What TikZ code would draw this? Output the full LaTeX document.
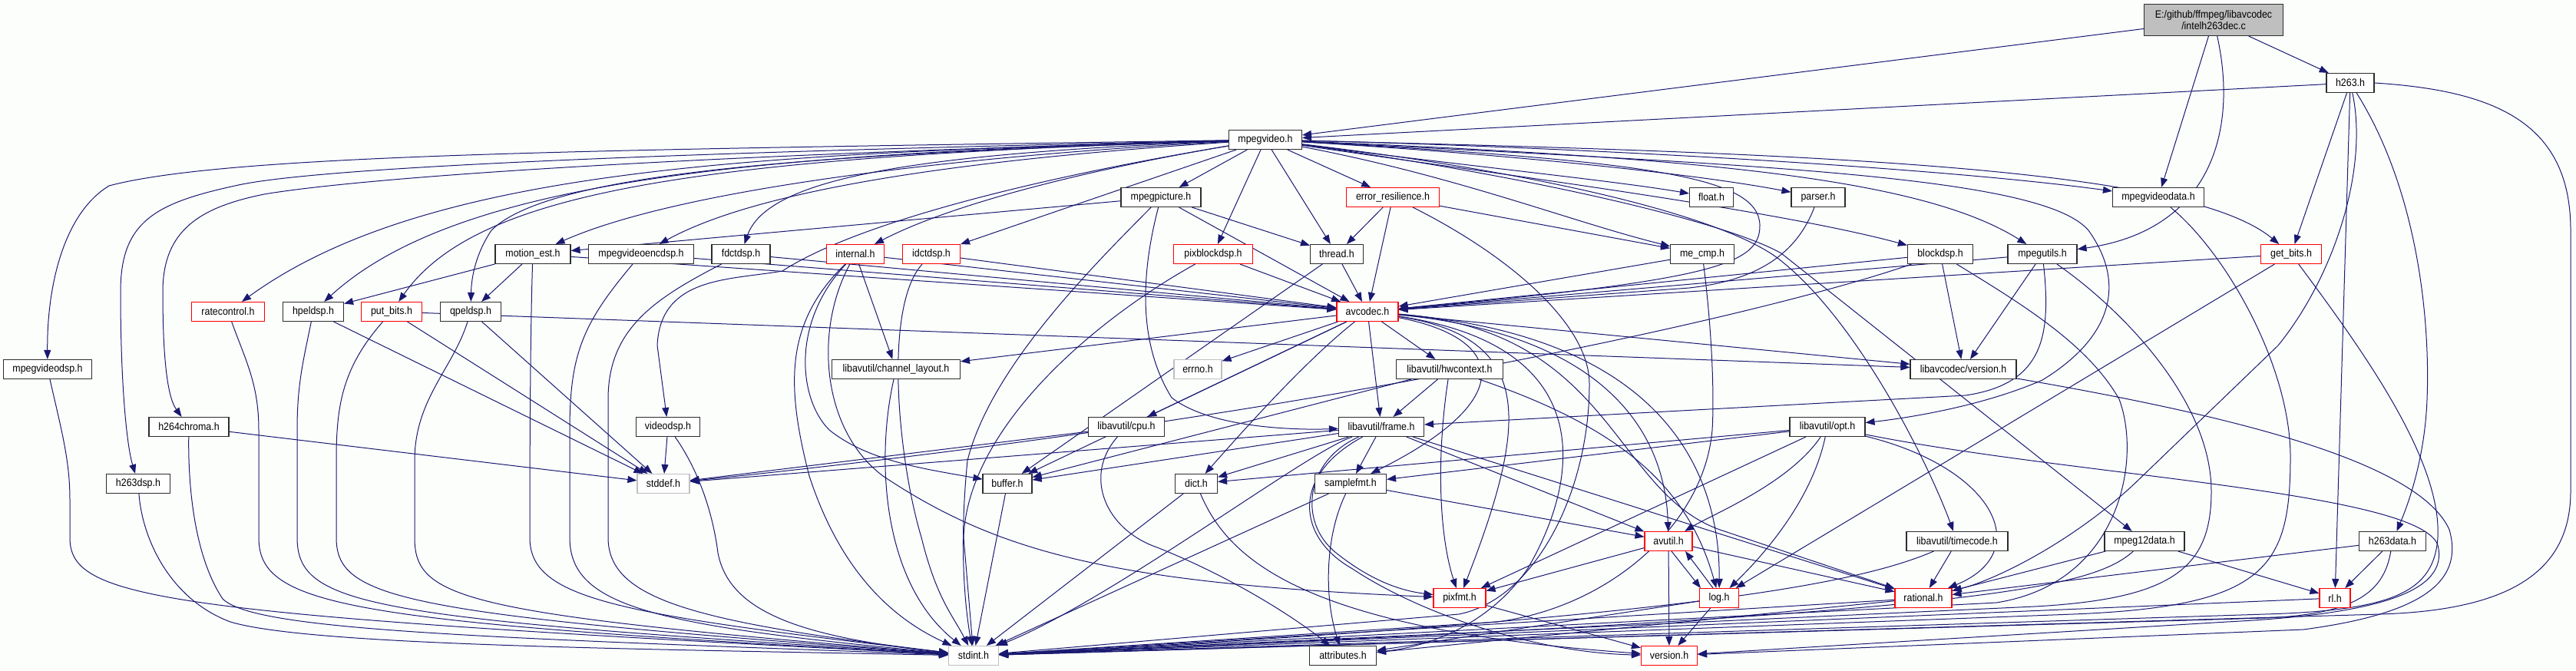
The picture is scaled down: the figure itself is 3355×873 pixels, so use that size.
\documentclass[tikz,border=0pt]{standalone}
\usepackage{fontspec}
\setmainfont{Liberation Sans}[FakeStretch=0.9]
\usetikzlibrary{arrows.meta}
\definecolor{edgec}{HTML}{191970}
\definecolor{bgc}{RGB}{252,254,252}
\definecolor{boxc}{RGB}{45,45,45}
\definecolor{grayc}{HTML}{BFBFBF}
\definecolor{rootfill}{HTML}{BFBFBF}
\pgfdeclarelayer{bglayer}
\pgfdeclarelayer{edgelayer}
\pgfsetlayers{bglayer,edgelayer,main}
\begin{document}
\begin{tikzpicture}[x=1pt,y=-1pt,
 every node/.style={font=\fontsize{13.8}{15.5}\selectfont},
 box/.style={draw=boxc,line width=1.1pt,fill=white,minimum height=25pt,inner xsep=4pt,inner ysep=0pt},
 rbox/.style={box,draw=red},
 gbox/.style={box,draw=grayc},
 edg/.style={draw=edgec,line width=1pt,-{Triangle[length=12pt,width=9pt]}}
]
\begin{pgfonlayer}{bglayer}
\fill[bgc] (0,0) rectangle (3355,873);
\end{pgfonlayer}
\useasboundingbox (0,0) rectangle (3355,873);

% nodes
\node[box,fill=rootfill,minimum width=181pt,minimum height=41pt,align=center] (root) at (2883,26) {E:/github/ffmpeg/libavcodec\\/intelh263dec.c};
\node[box,minimum width=62pt] (h263) at (3061,108) {h263.h};
\node[box,minimum width=95pt] (mpegvideo) at (1648,182) {mpegvideo.h};
\node[box,minimum width=104pt] (mpegpicture) at (1512,257) {mpegpicture.h};
\node[rbox,minimum width=121pt] (errres) at (1814,257) {error\_resilience.h};
\node[box,minimum width=57pt] (float) at (2229,257) {float.h};
\node[box,minimum width=70pt] (parser) at (2368,257) {parser.h};
\node[box,minimum width=119pt] (mpegvideodata) at (2811,257) {mpegvideodata.h};
\node[box,minimum width=98pt] (motionest) at (694,331) {motion\_est.h};
\node[box,minimum width=137pt] (encdsp) at (835,331) {mpegvideoencdsp.h};
\node[box,minimum width=76pt] (fdctdsp) at (965,331) {fdctdsp.h};
\node[rbox,minimum width=75pt] (internal) at (1114,331) {internal.h};
\node[rbox,minimum width=75pt] (idctdsp) at (1213,331) {idctdsp.h};
\node[rbox,minimum width=103pt] (pixblockdsp) at (1580,331) {pixblockdsp.h};
\node[box,minimum width=69pt] (thread) at (1741,331) {thread.h};
\node[box,minimum width=83pt] (mecmp) at (2217,331) {me\_cmp.h};
\node[box,minimum width=85pt] (blockdsp) at (2527,331) {blockdsp.h};
\node[box,minimum width=90pt] (mpegutils) at (2660,331) {mpegutils.h};
\node[rbox,minimum width=79pt] (getbits) at (2984,331) {get\_bits.h};
\node[rbox,minimum width=95pt] (ratecontrol) at (297,406) {ratecontrol.h};
\node[box,minimum width=79pt] (hpeldsp) at (408,406) {hpeldsp.h};
\node[rbox,minimum width=79pt] (putbits) at (510,406) {put\_bits.h};
\node[box,minimum width=79pt] (qpeldsp) at (613,406) {qpeldsp.h};
\node[rbox,minimum width=80pt] (avcodec) at (1781,406) {avcodec.h};
\node[box,minimum width=115pt] (mpegvideodsp) at (62,481) {mpegvideodsp.h};
\node[box,minimum width=167pt] (chlayout) at (1167,481) {libavutil/channel\_layout.h};
\node[gbox,minimum width=62pt] (errno) at (1560,481) {errno.h};
\node[box,minimum width=139pt] (hwcontext) at (1888,481) {libavutil/hwcontext.h};
\node[box,minimum width=138pt] (lavcversion) at (2557,481) {libavcodec/version.h};
\node[box,minimum width=104pt] (h264chroma) at (246,556) {h264chroma.h};
\node[box,minimum width=83pt] (videodsp) at (870,556) {videodsp.h};
\node[box,minimum width=99pt] (cpu) at (1467,556) {libavutil/cpu.h};
\node[box,minimum width=111pt] (frame) at (1799,556) {libavutil/frame.h};
\node[box,minimum width=98pt] (opt) at (2380,556) {libavutil/opt.h};
\node[box,minimum width=83pt] (h263dsp) at (180,630) {h263dsp.h};
\node[gbox,minimum width=68pt] (stddef) at (864,630) {stddef.h};
\node[box,minimum width=64pt] (buffer) at (1312,630) {buffer.h};
\node[box,minimum width=55pt] (dict) at (1558,630) {dict.h};
\node[box,minimum width=93pt] (samplefmt) at (1759,630) {samplefmt.h};
\node[rbox,minimum width=62pt] (avutil) at (2173,705) {avutil.h};
\node[box,minimum width=132pt] (timecode) at (2549,705) {libavutil/timecode.h};
\node[box,minimum width=104pt] (mpeg12data) at (2793,705) {mpeg12data.h};
\node[box,minimum width=87pt] (h263data) at (3116,705) {h263data.h};
\node[rbox,minimum width=68pt] (pixfmt) at (1901,779) {pixfmt.h};
\node[rbox,minimum width=51pt] (log) at (2239,779) {log.h};
\node[rbox,minimum width=74pt] (rational) at (2505,779) {rational.h};
\node[rbox,minimum width=40pt] (rl) at (3041,779) {rl.h};
\node[gbox,minimum width=65pt] (stdint) at (1268,854) {stdint.h};
\node[box,minimum width=87pt] (attributes) at (1749,854) {attributes.h};
\node[rbox,minimum width=73pt] (version) at (2174,854) {version.h};

\begin{pgfonlayer}{edgelayer}
% root
\draw[edg] (root) -- (mpegvideo);
\draw[edg] (root) -- (mpegvideodata);
\draw[edg] (root) .. controls (2915,170) and (2880,300) .. (mpegutils);
\draw[edg] (root) -- (h263);
% h263
\draw[edg] (h263) -- (mpegvideo);
\draw[edg] (h263) -- (getbits);
\draw[edg] (h263) -- (rl);
\draw[edg] (h263) .. controls (3150,250) and (3165,420) .. (3161,520) .. controls (3158,600) and (3135,660) .. (h263data);
\draw[edg] (h263) .. controls (3085,220) and (3040,360) .. (2967,450) -- (2780,630) .. controls (2700,705) and (2600,755) .. (rational);
\draw[edg] (h263.east) .. controls (3250,118) and (3348,160) .. (3348,300) -- (3348,640) .. controls (3348,750) and (3260,795) .. (3100,800) -- (stdint);
% mpegvideodata
\draw[edg] (mpegvideodata) .. controls (2900,330) and (2985,480) .. (2983,600) .. controls (2982,740) and (2950,790) .. (2700,800) -- (stdint);
% mpegutils
\draw[edg] (mpegutils) -- (avcodec);
\draw[edg] (mpegutils) -- (lavcversion);
\draw[edg] (mpegutils) .. controls (2672,440) and (2660,500) .. (2560,515) -- (frame);
\draw[edg] (mpegutils) .. controls (2760,400) and (2880,520) .. (2880,640) .. controls (2880,740) and (2830,780) .. (2650,790) -- (stdint);
% blockdsp
\draw[edg] (blockdsp) -- (avcodec);
\draw[edg] (blockdsp) -- (lavcversion);
\draw[edg] (blockdsp) .. controls (2300,410) and (1700,545) .. (stddef);
\draw[edg] (blockdsp) .. controls (2640,400) and (2720,450) .. (2760,520) .. controls (2790,600) and (2760,760) .. (2600,785) -- (stdint);
% get_bits
\draw[edg] (getbits) -- (avcodec);
\draw[edg] (getbits) -- (log);
\draw[edg] (getbits) .. controls (3080,460) and (3180,600) .. (3175,700) .. controls (3170,770) and (3120,795) .. (2950,800) -- (stdint);
% parser
\draw[edg] (parser) .. controls (2340,330) and (2290,365) .. (2200,375) -- (avcodec);
% me_cmp
\draw[edg] (mecmp) -- (avcodec);
\draw[edg] (mecmp) .. controls (2232,450) and (2232,530) .. (2230,560) .. controls (2220,680) and (2100,790) .. (1950,810) -- (stdint);
% error_resilience
\draw[edg] (errres) -- (thread);
\draw[edg] (errres) -- (avcodec);
\draw[edg] (errres) -- (mecmp);
\draw[edg] (errres) .. controls (1960,330) and (2070,420) .. (2070,500) .. controls (2070,640) and (2000,780) .. (1900,800) -- (stdint);
% mpegvideo
\draw[edg] (mpegvideo) -- (mpegpicture);
\draw[edg] (mpegvideo) -- (errres);
\draw[edg] (mpegvideo) .. controls (1900,215) and (2100,235) .. (float);
\draw[edg] (mpegvideo) .. controls (1950,200) and (2200,225) .. (parser);
\draw[edg] (mpegvideo) .. controls (2000,190) and (2500,215) .. (mpegvideodata);
\draw[edg] (mpegvideo) -- (thread);
\draw[edg] (mpegvideo) -- (pixblockdsp);
\draw[edg] (mpegvideo) .. controls (1900,230) and (2050,290) .. (mecmp);
\draw[edg] (mpegvideo) .. controls (1900,220) and (2300,270) .. (blockdsp);
\draw[edg] (mpegvideo) .. controls (2200,205) and (2500,230) .. (mpegutils);
\draw[edg] (mpegvideo) .. controls (2400,200) and (2850,220) .. (getbits);
\draw[edg] (mpegvideo) .. controls (2150,210) and (2290,230) .. (2292,293) .. controls (2293,345) and (2230,365) .. (avcodec);
\draw[edg] (mpegvideo) .. controls (2300,215) and (2660,230) .. (2720,300) .. controls (2770,370) and (2750,440) .. (2660,495) .. controls (2580,530) and (2480,545) .. (opt);
\draw[edg] (mpegvideo) .. controls (2050,230) and (2260,290) .. (2320,340) .. controls (2420,420) and (2510,600) .. (timecode);
\draw[edg] (mpegvideo) .. controls (2000,230) and (2250,290) .. (2320,330) -- (mpeg12data);
\draw[edg] (mpegvideo) -- (idctdsp);
\draw[edg] (mpegvideo) .. controls (1450,215) and (1250,260) .. (internal);
\draw[edg] (mpegvideo) .. controls (1200,200) and (1000,230) .. (fdctdsp);
\draw[edg] (mpegvideo) .. controls (1300,205) and (1000,240) .. (encdsp);
\draw[edg] (mpegvideo) .. controls (1300,200) and (900,240) .. (motionest);
\draw[edg] (mpegvideo) .. controls (1100,200) and (720,220) .. (640,300) .. controls (620,330) and (614,360) .. (qpeldsp);
\draw[edg] (mpegvideo) .. controls (900,205) and (620,250) .. (putbits);
\draw[edg] (mpegvideo) .. controls (1000,200) and (600,230) .. (hpeldsp);
\draw[edg] (mpegvideo) .. controls (1000,200) and (560,215) .. (ratecontrol);
\draw[edg] (mpegvideo) .. controls (800,195) and (300,200) .. (142,242) .. controls (80,280) and (61,380) .. (mpegvideodsp);
\draw[edg] (mpegvideo) .. controls (800,200) and (400,220) .. (306,242) .. controls (200,265) and (157,290) .. (157,380) .. controls (157,500) and (165,580) .. (h263dsp);
\draw[edg] (mpegvideo) .. controls (800,205) and (450,235) .. (344,253) .. controls (260,270) and (212,300) .. (212,380) .. controls (212,480) and (220,520) .. (h264chroma);
\draw[edg] (mpegvideo) .. controls (1300,240) and (1100,300) .. (1019,353) .. controls (950,365) and (860,360) .. (856,450) -- (videodsp);
% mpegpicture
\draw[edg] (mpegpicture) -- (motionest);
\draw[edg] (mpegpicture) -- (thread);
\draw[edg] (mpegpicture) -- (avcodec);
\draw[edg] (mpegpicture) .. controls (1480,380) and (1490,460) .. (1526,518) .. controls (1580,560) and (1700,560) .. (frame);
\draw[edg] (mpegpicture) .. controls (1420,350) and (1290,480) .. (1260,600) .. controls (1250,700) and (1255,780) .. (stdint);
% motion_est
\draw[edg] (motionest) -- (hpeldsp);
\draw[edg] (motionest) -- (qpeldsp);
\draw[edg] (motionest) -- (avcodec);
\draw[edg] (motionest) .. controls (690,450) and (690,650) .. (690,700) .. controls (690,780) and (800,800) .. (stdint);
% mpegvideoencdsp
\draw[edg] (encdsp) -- (avcodec);
\draw[edg] (encdsp) .. controls (760,420) and (742,460) .. (742,560) -- (742,700) .. controls (742,790) and (850,815) .. (stdint);
% fdctdsp
\draw[edg] (fdctdsp) -- (avcodec);
\draw[edg] (fdctdsp) .. controls (850,390) and (792,430) .. (792,520) -- (792,700) .. controls (792,780) and (900,810) .. (stdint);
% internal
\draw[edg] (internal) -- (avcodec);
\draw[edg] (internal) -- (chlayout);
\draw[edg] (internal) .. controls (1030,420) and (1040,520) .. (1080,560) .. controls (1130,600) and (1200,610) .. (buffer);
\draw[edg] (internal) .. controls (1060,430) and (1070,560) .. (1150,620) .. controls (1300,720) and (1450,760) .. (pixfmt);
\draw[edg] (internal) .. controls (1023,420) and (1023,500) .. (1054,620) .. controls (1090,730) and (1150,800) .. (stdint);
% idctdsp
\draw[edg] (idctdsp) -- (avcodec);
\draw[edg] (idctdsp) .. controls (1150,400) and (1170,600) .. (1200,700) .. controls (1220,780) and (1240,800) .. (stdint);
% pixblockdsp
\draw[edg] (pixblockdsp) -- (avcodec);
\draw[edg] (pixblockdsp) .. controls (1420,420) and (1260,560) .. (1255,700) -- (stdint);
% thread
\draw[edg] (thread) -- (avcodec);
\draw[edg] (thread) -- (buffer);
% left side headers
\draw[edg] (ratecontrol) .. controls (320,470) and (337,500) .. (337,560) -- (337,700) .. controls (337,790) and (450,810) .. (stdint);
\draw[edg] (hpeldsp) .. controls (395,470) and (387,500) .. (387,560) -- (387,700) .. controls (387,790) and (480,805) .. (stdint);
\draw[edg] (hpeldsp) -- (stddef);
\draw[edg] (putbits) .. controls (445,480) and (438,530) .. (438,600) -- (438,700) .. controls (438,780) and (520,800) .. (stdint);
\draw[edg] (putbits) -- (stddef);
\draw[edg] (putbits) -- (lavcversion);
\draw[edg] (qpeldsp) .. controls (590,480) and (540,520) .. (540,600) -- (540,700) .. controls (540,780) and (600,800) .. (stdint);
\draw[edg] (qpeldsp) -- (stddef);
\draw[edg] (mpegvideodsp) .. controls (80,560) and (91,600) .. (91,650) -- (91,700) .. controls (91,780) and (200,800) .. (stdint);
\draw[edg] (h263dsp) .. controls (185,700) and (220,780) .. (300,810) .. controls (400,840) and (800,845) .. (stdint);
\draw[edg] (h264chroma) -- (stddef);
\draw[edg] (h264chroma) .. controls (245,620) and (250,720) .. (290,780) .. controls (330,820) and (600,830) .. (stdint);
\draw[edg] (videodsp) -- (stddef);
\draw[edg] (videodsp) .. controls (915,620) and (930,680) .. (935,720) .. controls (950,800) and (1050,830) .. (stdint);
\draw[edg] (chlayout) .. controls (1140,600) and (1150,760) .. (stdint);
% avcodec
\draw[edg] (avcodec) -- (chlayout);
\draw[edg] (avcodec) -- (errno);
\draw[edg] (avcodec) -- (hwcontext);
\draw[edg] (avcodec) -- (lavcversion);
\draw[edg] (avcodec) -- (cpu);
\draw[edg] (avcodec) -- (frame);
\draw[edg] (avcodec) -- (buffer);
\draw[edg] (avcodec) .. controls (1700,470) and (1620,560) .. (dict);
\draw[edg] (avcodec) .. controls (1960,440) and (1980,520) .. (samplefmt);
\draw[edg] (avcodec) .. controls (2000,440) and (1990,550) .. (pixfmt);
\draw[edg] (avcodec) .. controls (2080,450) and (2060,620) .. (1990,740) .. controls (1950,800) and (1880,840) .. (attributes);
\draw[edg] (avcodec) .. controls (2130,440) and (2170,600) .. (avutil);
\draw[edg] (avcodec) .. controls (2200,440) and (2240,650) .. (log);
\draw[edg] (avcodec) .. controls (2100,430) and (2100,640) .. (2240,690) -- (rational);
% hwcontext
\draw[edg] (hwcontext) -- (frame);
\draw[edg] (hwcontext) -- (buffer);
\draw[edg] (hwcontext) .. controls (1870,600) and (1875,700) .. (pixfmt);
\draw[edg] (hwcontext) .. controls (2120,560) and (2200,640) .. (log);
% libavcodec/version
\draw[edg] (lavcversion) .. controls (2900,540) and (3150,600) .. (3190,690) .. controls (3210,760) and (3150,800) .. (3000,820) -- (version);
% cpu
\draw[edg] (cpu) -- (stddef);
\draw[edg] (cpu) .. controls (1410,620) and (1440,690) .. (1507,713) .. controls (1600,750) and (1680,800) .. (attributes);
% frame
\draw[edg] (frame) -- (stddef);
\draw[edg] (frame) -- (buffer);
\draw[edg] (frame) -- (dict);
\draw[edg] (frame) -- (samplefmt);
\draw[edg] (frame) -- (avutil);
\draw[edg] (frame) -- (rational);
\draw[edg] (frame) .. controls (1700,600) and (1690,680) .. (1740,720) .. controls (1790,760) and (1830,770) .. (pixfmt);
\draw[edg] (frame) .. controls (1680,620) and (1690,700) .. (1760,740) .. controls (1850,800) and (2000,850) .. (version);
\draw[edg] (frame) .. controls (1700,590) and (1450,780) .. (stdint);
% samplefmt
\draw[edg] (samplefmt) -- (avutil);
\draw[edg] (samplefmt) .. controls (1725,700) and (1725,780) .. (attributes);
\draw[edg] (samplefmt) -- (stdint);
% dict, buffer
\draw[edg] (dict) -- (stdint);
\draw[edg] (dict) .. controls (1600,730) and (1700,820) .. (version);
\draw[edg] (buffer) -- (stdint);
% avutil & log
\draw[edg] (avutil) -- (version);
\draw[edg] ([xshift=4pt]avutil.south) -- ([xshift=-24pt]log.north);
\draw[edg] ([xshift=-8pt]log.north) -- ([xshift=22pt]avutil.south);
\draw[edg] (avutil) -- (pixfmt);
\draw[edg] (avutil) -- (rational);
\draw[edg] (log) -- (version);
\draw[edg] (log) -- (attributes);
\draw[edg] (pixfmt) -- (version);
\draw[edg] (rational) -- (stdint);
\draw[edg] (rational) -- (attributes);
% timecode
\draw[edg] (timecode) -- (rational);
\draw[edg] (timecode) .. controls (2420,760) and (2200,805) .. (stdint);
% opt
\draw[edg] (opt) .. controls (2330,630) and (2230,670) .. (avutil);
\draw[edg] (opt) .. controls (2360,650) and (2300,720) .. (log);
\draw[edg] (opt) -- (pixfmt);
\draw[edg] (opt) -- (samplefmt);
\draw[edg] (opt) -- (dict);
\draw[edg] (opt) .. controls (2600,610) and (2650,720) .. (rational);
\draw[edg] (opt) .. controls (2700,620) and (3150,640) .. (3175,710) .. controls (3190,770) and (3100,800) .. (2900,810) -- (version);
% mpeg12data
\draw[edg] (mpeg12data) -- (rational);
\draw[edg] (mpeg12data) -- (rl);
\draw[edg] (mpeg12data) .. controls (2720,770) and (2560,800) .. (stdint);
% h263data
\draw[edg] (h263data) -- (rl);
\draw[edg] (h263data) -- (rational);
\draw[edg] (h263data) .. controls (3105,770) and (3070,800) .. (2950,805) -- (stdint);
% rl
\draw[edg] (rl) -- (stdint);
\end{pgfonlayer}
\end{tikzpicture}
\end{document}
